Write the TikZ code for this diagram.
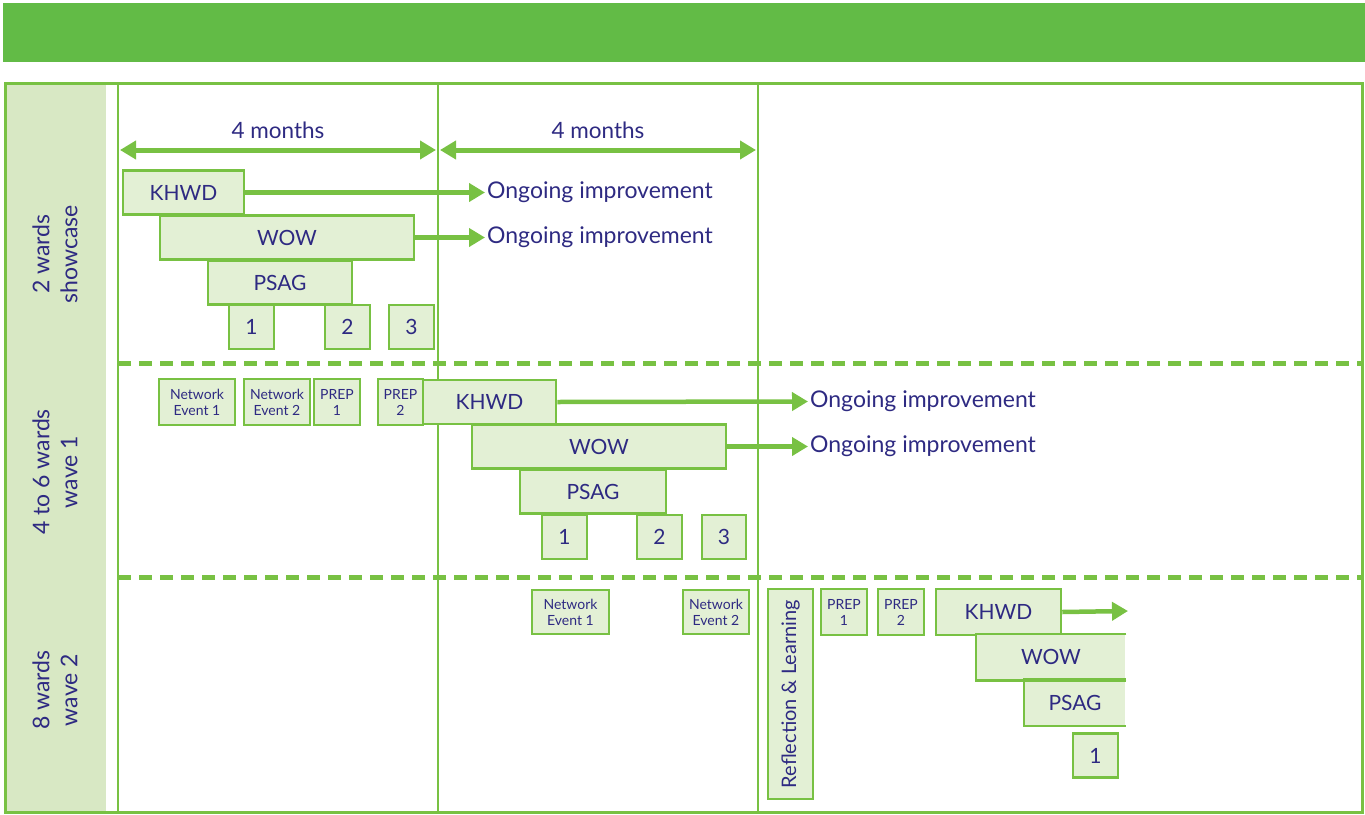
\documentclass[tikz,border=0pt]{standalone}
\usepackage{fontspec}
\setmainfont{Lato}
\usetikzlibrary{arrows.meta}
\definecolor{bargreen}{RGB}{98,187,70}
\definecolor{linegreen}{RGB}{120,193,67}
\definecolor{boxgreen}{RGB}{227,240,213}
\definecolor{colgreen}{RGB}{216,232,196}
\definecolor{navy}{RGB}{46,42,130}
\tikzset{
  task box/.style={
    draw=linegreen,
    fill=boxgreen,
    line width=2.5,
    inner sep=0pt,
    minimum height=44,
    text=navy,
    font=\fontsize{21}{25}\selectfont,
  },
  small box/.style={
    task box,
    align=center,
    font=\fontsize{14}{16}\selectfont,
  },
  open box/.style={task box, draw=none},
  row label/.style={
    rotate=90,
    align=center,
    text=navy,
    font=\fontsize{23}{28}\selectfont,
  },
  note/.style={text=navy, inner sep=2pt, anchor=west, font=\fontsize{23}{27}\selectfont},
  grow arrow/.style={draw=linegreen, line width=4.5, -{Triangle[length=16pt, width=18pt]}},
  span arrow/.style={draw=linegreen, line width=5, {Triangle[length=16pt, width=18pt]}-{Triangle[length=16pt, width=18pt]}},
}

\begin{document}
\begin{tikzpicture}[x=1pt, y=-1pt]
      \useasboundingbox (0,0) rectangle (1365,814);

      % header bar and grid
      \fill[bargreen] (3,3) rectangle (1365,62);
      \fill[colgreen] (5,83) rectangle (106,812);
      \draw[linegreen, line width=3] (5,83) rectangle (1362,812);
      \foreach \x in {118,438,758}
        \draw[linegreen, line width=2.5] (\x,83) -- (\x,812);
      \foreach \y in {363,577}
        \draw[linegreen, line width=5, dash pattern=on 13pt off 8pt] (118,\y) -- (1362,\y);

      \node[row label] (showcase) at (55,254) {2 wards\\showcase};
      \node[row label] (waveone)  at (55,472) {4 to 6 wards\\wave 1};
      \node[row label] (wavetwo)  at (55,690) {8 wards\\wave 2};

      % four month spans
      \coordinate (spanA) at (120,150);
      \coordinate (spanB) at (436,150);
      \coordinate (spanC) at (440,150);
      \coordinate (spanD) at (756,150);
      \draw[span arrow] (spanA) -- (spanB) node[midway, above=5pt, text=navy, font=\fontsize{22.5}{26}\selectfont] {4 months};
      \draw[span arrow] (spanC) -- (spanD) node[midway, above=5pt, text=navy, font=\fontsize{22.5}{26}\selectfont] {4 months};

      % showcase
      \node[task box, minimum width=121] (khwdA)  at (183.5,192.5) {KHWD};
      \node[task box, minimum width=254] (wowA)   at (287,237.5)   {WOW};
      \node[task box, minimum width=144] (psagA)  at (280,282.5)   {PSAG};
      \node[task box, minimum width=45]  (oneA)   at (251.5,327)   {1};
      \node[task box, minimum width=45]  (twoA)   at (347.5,327)   {2};
      \node[task box, minimum width=45]  (threeA) at (411.5,327)   {3};
      \node[note] (ongA) at (485,192.5) {Ongoing improvement};
      \node[note] (ongB) at (485,237.5) {Ongoing improvement};
      \draw[grow arrow] (khwdA.east) -- (ongA.west);
      \draw[grow arrow] (wowA.east)  -- (ongB.west);

      % wave 1
      \node[small box, minimum width=76, minimum height=46] (netA)  at (197,402)   {Network\\Event 1};
      \node[small box, minimum width=66, minimum height=46] (netB)  at (277,402)   {Network\\Event 2};
      \node[small box, minimum width=46, minimum height=46] (prepA) at (337,402)   {PREP\\1};
      \node[small box, minimum width=45, minimum height=46] (prepB) at (400.5,402) {PREP\\2};
      \node[task box, minimum width=133] (khwdB)  at (489.5,402)   {KHWD};
      \node[task box, minimum width=254] (wowB)   at (599,446.5)   {WOW};
      \node[task box, minimum width=146] (psagB)  at (593,491.5)   {PSAG};
      \node[task box, minimum width=45]  (oneB)   at (564.5,537)   {1};
      \node[task box, minimum width=45]  (twoB)   at (659.5,537)   {2};
      \node[task box, minimum width=44]  (threeB) at (724,537)     {3};
      \node[note] (ongC) at (808,401.5) {Ongoing improvement};
      \node[note] (ongD) at (808,446.5) {Ongoing improvement};
      \draw[grow arrow] (khwdB.east) -- (ongC.west);
      \draw[grow arrow] (wowB.east)  -- (ongD.west);

      % wave 2
      \node[small box, minimum width=77, minimum height=44] (netC)  at (570.5,612) {Network\\Event 1};
      \node[small box, minimum width=66, minimum height=44] (netD)  at (716,612)   {Network\\Event 2};
      \node[task box, minimum width=210, minimum height=45, rotate=90, font=\fontsize{20}{24}\selectfont] (reflect) at (790.5,694) {Reflection \& Learning};
      \node[small box, minimum width=46, minimum height=46] (prepC) at (844,612)   {PREP\\1};
      \node[small box, minimum width=46, minimum height=46] (prepD) at (901,612)   {PREP\\2};
      \node[task box, minimum width=125, minimum height=46] (khwdC) at (998.5,612) {KHWD};
      \node[open box, minimum width=148] (wowC)  at (1051,657)    {WOW};
      \node[open box, minimum width=100] (psagC) at (1075,702.5)  {PSAG};
      \node[task box, minimum width=45]  (oneC)  at (1095.5,755.5) {1};
      \draw[linegreen, line width=2.5] (wowC.north east) -- (wowC.north west) -- (wowC.south west) -- (wowC.south east);
      \draw[linegreen, line width=2.5] (psagC.north east) -- (psagC.north west) -- (psagC.south west) -- (psagC.south east);
      \coordinate (goon) at (1128,611);
      \draw[grow arrow] (khwdC.east) -- (goon);
    \end{tikzpicture}
\end{document}
